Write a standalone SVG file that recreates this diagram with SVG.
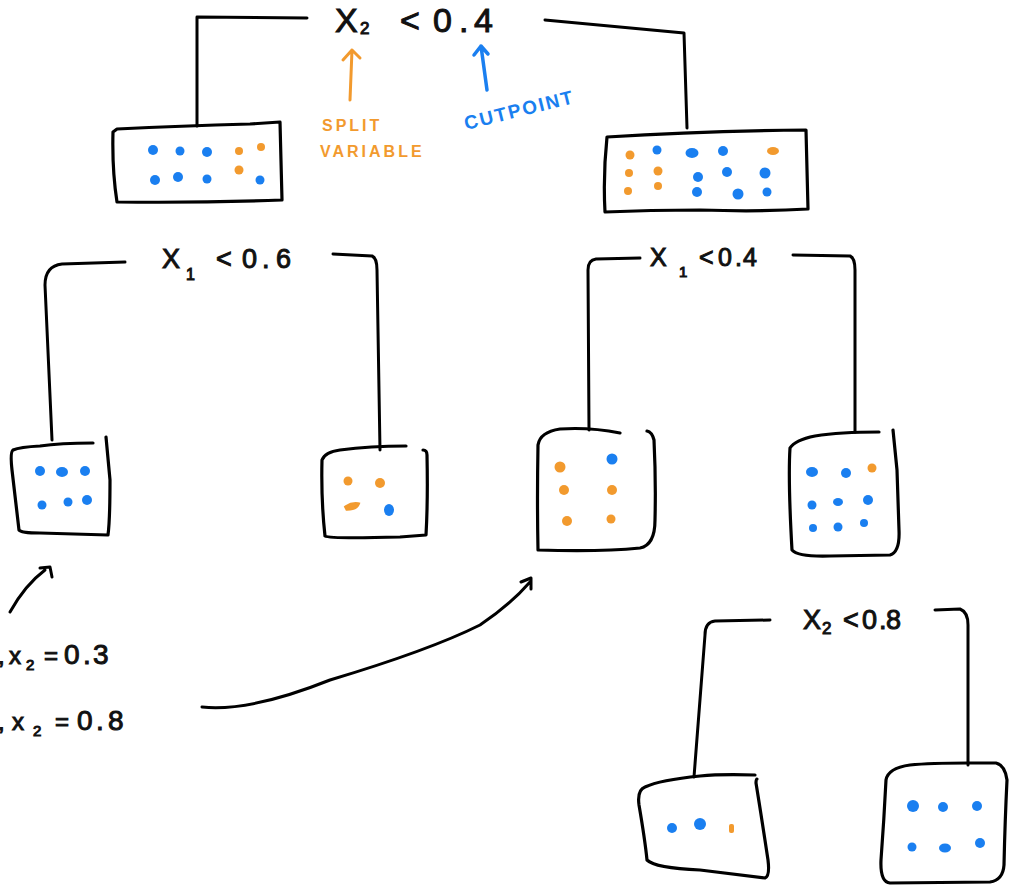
<svg xmlns="http://www.w3.org/2000/svg" width="1012" height="887" viewBox="0 0 1012 887">
<style>
.ln{fill:none;stroke:#000;stroke-width:3;stroke-linecap:round;stroke-linejoin:round}
.bx{fill:none;stroke:#000;stroke-width:3.2;stroke-linecap:round;stroke-linejoin:round}
.lbl{font-family:"Liberation Sans",Arial,sans-serif;fill:#111;stroke:#111;stroke-width:1;font-weight:normal}
.b{fill:#1a7ff0}
.o{fill:#f29a2e}
.ann{font-family:"Liberation Sans",Arial,sans-serif;font-weight:bold}
</style>

<g id="connectors">
<path class="ln" d="M307,18 L197,17 L197,126"/>
<path class="ln" d="M545,20 L684,33 L687,128"/>
<path class="ln" d="M125,262 L62,264 Q45,266 45,285 L52,440"/>
<path class="ln" d="M333,254 L372,256 Q377,258 377,270 L380,450"/>
<path class="ln" d="M640,258 L596,259 Q588,260 588,270 L589,430"/>
<path class="ln" d="M793,255 L850,256 Q855,258 855,270 L855,432"/>
<path class="ln" d="M770,620 L715,621 Q705,622 705,635 L694,777"/>
<path class="ln" d="M935,610 L960,609 Q968,612 968,625 L968,765"/>
<path d="M350,100 L352,50 M343,60 L352,50 L360,58" fill="none" stroke="#f29a2e" stroke-width="3" stroke-linecap="round" stroke-linejoin="round"/>
<path d="M487,90 L481,46 M474,55 L481,46 L488,54" fill="none" stroke="#1a7ff0" stroke-width="3.5" stroke-linecap="round" stroke-linejoin="round"/>
<path class="ln" d="M10,612 Q25,585 45,570 M40,568 L50,567 L52,577"/>
<path class="ln" d="M202,707 Q250,712 330,680 Q430,650 480,625 Q510,605 530,582 M521,582 L531,578 L531,589"/>
</g>

<g id="root-label">
<text class="lbl" font-size="34" y="32"><tspan x="335">X</tspan><tspan x="360" y="34" font-size="17">2</tspan><tspan x="400" y="32">&lt;</tspan><tspan x="433">0</tspan><tspan x="459">.</tspan><tspan x="474">4</tspan></text>
</g>
<g id="annotations">
<text class="ann" fill="#f29a2e" font-size="16" letter-spacing="3" x="322" y="131">SPLIT</text>
<text class="ann" fill="#f29a2e" font-size="16" letter-spacing="3" x="320" y="157">VARIABLE</text>
<text class="ann" fill="#1a7ff0" font-size="19" letter-spacing="2" x="466" y="130" transform="rotate(-14 466 130)">CUTPOINT</text>
</g>

<g id="node-root-left">
<path class="bx" d="M117,129 Q180,126 250,124 L280,122 L282,200 Q200,203 117,202 Q112,170 113,132 Z"/>
<circle class="b" cx="153" cy="150" r="5"/><circle class="b" cx="180" cy="151" r="4.5"/><circle class="b" cx="207" cy="152" r="5"/>
<circle class="o" cx="239" cy="151" r="4"/><circle class="o" cx="261" cy="147" r="4"/>
<circle class="b" cx="155" cy="180" r="5"/><circle class="b" cx="178" cy="177" r="5"/><circle class="b" cx="207" cy="179" r="4.5"/>
<circle class="o" cx="239" cy="170" r="4.5"/><circle class="b" cx="260" cy="180" r="4.5"/>
</g>

<g id="node-root-right">
<path class="bx" d="M607,137 Q700,131 806,130 L808,209 Q760,212 700,210 Q650,210 605,212 Q603,175 607,137 Z"/>
<circle class="o" cx="630" cy="155" r="4.5"/><circle class="b" cx="657" cy="150" r="4.5"/><ellipse class="b" cx="692" cy="153" rx="6.5" ry="5"/><circle class="b" cx="723" cy="151" r="5"/><ellipse class="o" cx="773" cy="151" rx="6" ry="4"/>
<circle class="o" cx="629" cy="173" r="4"/><circle class="o" cx="658" cy="171" r="4.5"/><circle class="b" cx="698" cy="177" r="5"/><circle class="b" cx="727" cy="172" r="5"/><circle class="b" cx="765" cy="173" r="5.5"/>
<circle class="o" cx="628" cy="191" r="4"/><circle class="o" cx="658" cy="186" r="4"/><circle class="b" cx="697" cy="192" r="5"/><circle class="b" cx="738" cy="194" r="5.5"/><circle class="b" cx="767" cy="192" r="4.5"/>
</g>

<g id="split-x1-06">
<text class="lbl" font-size="27" y="268"><tspan x="162">X</tspan><tspan x="186" y="280" font-size="16">1</tspan><tspan x="216" y="268">&lt;</tspan><tspan x="242">0</tspan><tspan x="262">.</tspan><tspan x="276">6</tspan></text>
</g>
<g id="split-x1-04">
<text class="lbl" font-size="25" y="266"><tspan x="650">X</tspan><tspan x="679" y="277" font-size="15">1</tspan><tspan x="699" y="266">&lt;</tspan><tspan x="718">0</tspan><tspan x="735">.</tspan><tspan x="743">4</tspan></text>
</g>
<g id="split-x2-08">
<text class="lbl" font-size="27" y="629"><tspan x="803">X</tspan><tspan x="822" y="634" font-size="17">2</tspan><tspan x="843" y="629">&lt;</tspan><tspan x="862">0</tspan><tspan x="879">.</tspan><tspan x="886">8</tspan></text>
</g>

<g id="leaf-1">
<path class="bx" d="M93,443 Q60,443 40,446 Q20,447 13,450 Q10,452 12,470 L19,530 Q21,533 40,533 L108,535 Q110,520 110,480 L106,437"/>
<circle class="b" cx="40" cy="471" r="5"/><ellipse class="b" cx="62" cy="472" rx="6" ry="5"/><circle class="b" cx="85" cy="471" r="5"/>
<circle class="b" cx="42" cy="505" r="4.5"/><circle class="b" cx="68" cy="502" r="4.5"/><circle class="b" cx="87" cy="500" r="5"/>
</g>

<g id="leaf-2">
<path class="bx" d="M406,446 Q370,446 340,450 Q325,452 322,460 Q321,500 325,536 Q330,539 400,537 L426,535 Q428,500 427,455 Q427,450 423,450"/>
<circle class="o" cx="348" cy="481" r="4.5"/><circle class="o" cx="380" cy="483" r="5"/><path class="o" d="M346,507 Q352,503 358,504 Q356,509 347,509 Z" stroke="#f29a2e" stroke-width="3.5"/>
<ellipse class="b" cx="389" cy="510" rx="5" ry="6"/>
</g>

<g id="leaf-3">
<path class="bx" d="M620,433 Q590,427 560,429 Q540,432 538,445 Q537,500 538,550 Q600,552 640,548 Q655,545 655,520 Q656,480 654,440 Q652,432 647,431"/>
<circle class="o" cx="560" cy="467" r="5.5"/><circle class="b" cx="612" cy="459" r="5.5"/>
<circle class="o" cx="564" cy="490" r="5"/><circle class="o" cx="612" cy="490" r="5"/>
<circle class="o" cx="567" cy="521" r="5"/><circle class="o" cx="611" cy="519" r="4.5"/>
</g>

<g id="leaf-4">
<path class="bx" d="M879,432 Q840,432 815,436 Q795,440 790,448 Q788,480 792,550 Q798,557 830,556 L890,555 Q900,552 899,530 L897,470 Q895,450 893,430"/>
<ellipse class="b" cx="812" cy="472" rx="6" ry="5"/><circle class="b" cx="846" cy="473" r="5"/><circle class="o" cx="872" cy="468" r="4.5"/>
<circle class="b" cx="812" cy="505" r="4.5"/><ellipse class="b" cx="838" cy="502" rx="5" ry="4"/><circle class="b" cx="868" cy="500" r="5"/>
<circle class="b" cx="813" cy="528" r="4"/><circle class="b" cx="838" cy="527" r="4.5"/><circle class="b" cx="864" cy="523" r="4"/>
</g>

<g id="leaf-5">
<path class="bx" d="M755,775 Q720,774 700,776 Q660,780 645,787 Q637,790 639,805 Q645,840 647,860 Q655,868 700,870 L765,878 Q770,876 768,860 Q762,820 756,783 Q756,779 757,779"/>
<circle class="b" cx="672" cy="828" r="5"/><circle class="b" cx="700" cy="824" r="6"/><rect class="o" x="729" y="824" width="5" height="9" rx="2"/>
</g>

<g id="leaf-6">
<path class="bx" d="M968,763 Q930,763 910,765 Q888,768 886,780 Q884,820 881,860 Q880,882 890,883 L990,882 Q1003,880 1004,865 Q1005,820 1007,780 Q1005,765 996,763 L968,763"/>
<circle class="b" cx="913" cy="806" r="6"/><circle class="b" cx="943" cy="807" r="5"/><circle class="b" cx="977" cy="806" r="5"/>
<circle class="b" cx="912" cy="847" r="4.5"/><ellipse class="b" cx="945" cy="848" rx="6" ry="4.5"/><circle class="b" cx="980" cy="843" r="5"/>
</g>

<g id="example-points">
<text class="lbl" font-size="24" y="664"><tspan x="-2">,</tspan><tspan x="9">x</tspan><tspan x="26" y="670" font-size="15">2</tspan><tspan x="44" y="664">=</tspan><tspan x="64" font-size="28">0</tspan><tspan x="83" font-size="28">.</tspan><tspan x="93" font-size="28">3</tspan></text>
<text class="lbl" font-size="24" y="730"><tspan x="-2">,</tspan><tspan x="12">x</tspan><tspan x="33" y="736" font-size="15">2</tspan><tspan x="55" y="730">=</tspan><tspan x="77" font-size="28">0</tspan><tspan x="96" font-size="28">.</tspan><tspan x="108" font-size="28">8</tspan></text>
</g>
</svg>
